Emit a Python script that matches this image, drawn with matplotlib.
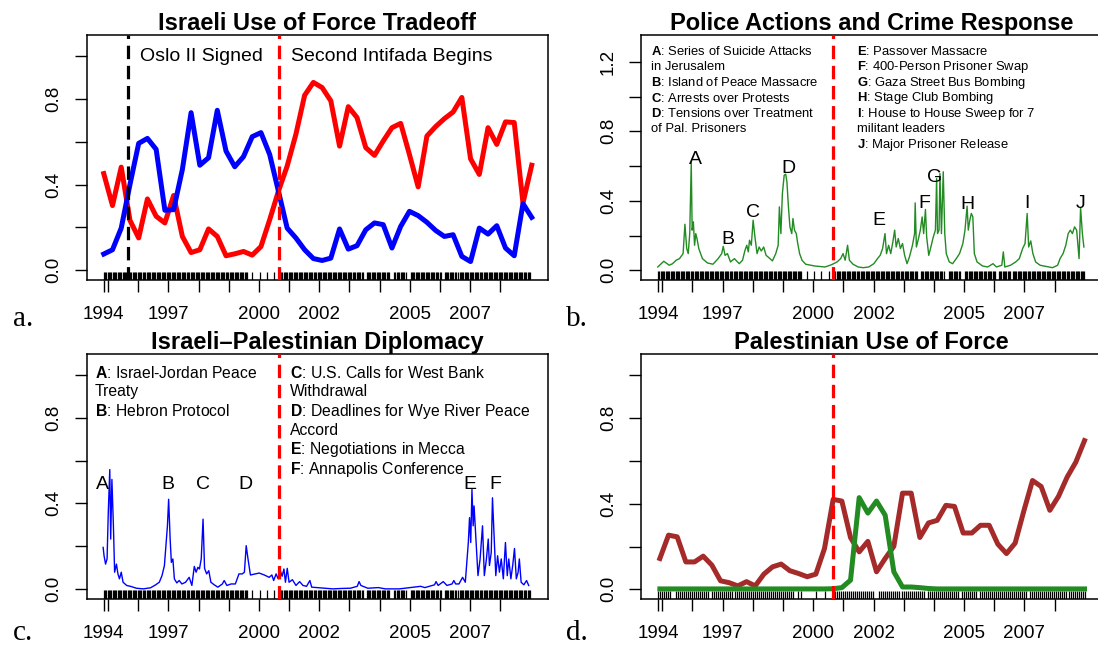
import numpy as np
import matplotlib
matplotlib.use("Agg")
from matplotlib import pyplot as plt

plt.rcParams['font.family'] = ['Liberation Sans', 'DejaVu Sans']
plt.rcParams['mathtext.fontset'] = 'custom'
plt.rcParams['mathtext.rm'] = 'Liberation Sans'
plt.rcParams['mathtext.bf'] = 'Liberation Sans:bold'

# ---------------- data ----------------
# panel a: quarterly-ish periods (50 periods, late 1994 .. early 2009)
periods_a = np.linspace(1994.86, 2009.04, 50)
israel_force_red = [0.451, 0.302, 0.481, 0.233, 0.151, 0.333, 0.252, 0.221, 0.349, 0.158,
                    0.083, 0.096, 0.193, 0.158, 0.068, 0.077, 0.088, 0.071, 0.111, 0.236,
                    0.369, 0.486, 0.634, 0.816, 0.876, 0.852, 0.790, 0.579, 0.763, 0.712,
                    0.572, 0.536, 0.603, 0.665, 0.685, 0.540, 0.389, 0.626, 0.670, 0.707,
                    0.738, 0.806, 0.520, 0.447, 0.665, 0.587, 0.692, 0.689, 0.314, 0.490]
israel_force_blue = [0.076, 0.096, 0.197, 0.400, 0.592, 0.615, 0.564, 0.280, 0.283, 0.470,
                     0.735, 0.490, 0.525, 0.746, 0.556, 0.483, 0.530, 0.623, 0.642, 0.540,
                     0.369, 0.197, 0.151, 0.096, 0.055, 0.046, 0.057, 0.193, 0.099, 0.115,
                     0.189, 0.221, 0.213, 0.104, 0.205, 0.275, 0.255, 0.224, 0.186, 0.158,
                     0.166, 0.065, 0.041, 0.197, 0.169, 0.208, 0.104, 0.068, 0.311, 0.247]

# panel b: police actions (weekly series, key vertices)
police_year = [1994.85, 1995.05, 1995.23, 1995.34, 1995.46, 1995.57, 1995.69, 1995.75, 1995.81, 1995.86,
               1995.91, 1995.96, 1995.99, 1996.03, 1996.07, 1996.11, 1996.15, 1996.21, 1996.33, 1996.50,
               1996.68, 1996.85, 1996.97, 1997.02, 1997.08, 1997.16, 1997.26, 1997.39, 1997.55, 1997.66,
               1997.74, 1997.80, 1997.85, 1997.89, 1997.95, 1998.01, 1998.07, 1998.14, 1998.21, 1998.28,
               1998.36, 1998.44, 1998.53, 1998.65, 1998.76, 1998.84, 1998.88, 1998.93, 1998.98, 1999.04,
               1999.09, 1999.13, 1999.18, 1999.23, 1999.29, 1999.33, 1999.38, 1999.44, 1999.48, 1999.55,
               1999.63, 1999.75, 2000.04, 2000.39, 2000.56, 2000.68, 2000.79, 2000.91, 2000.99, 2001.06,
               2001.14, 2001.20, 2001.32, 2001.49, 2001.66, 2001.84, 2002.01, 2002.13, 2002.22, 2002.30,
               2002.38, 2002.43, 2002.50, 2002.57, 2002.64, 2002.70, 2002.75, 2002.82, 2002.89, 2002.96,
               2003.03, 2003.11, 2003.19, 2003.29, 2003.36, 2003.38, 2003.42, 2003.49, 2003.55, 2003.61,
               2003.66, 2003.72, 2003.76, 2003.83, 2003.90, 2003.98, 2004.05, 2004.09, 2004.12, 2004.17,
               2004.20, 2004.25, 2004.31, 2004.36, 2004.41, 2004.51, 2004.62, 2004.74, 2004.85, 2004.96,
               2005.03, 2005.10, 2005.14, 2005.19, 2005.24, 2005.29, 2005.34, 2005.43, 2005.61, 2005.78,
               2005.96, 2006.07, 2006.25, 2006.30, 2006.35, 2006.54, 2006.71, 2006.83, 2006.94, 2007.02,
               2007.09, 2007.14, 2007.21, 2007.28, 2007.37, 2007.52, 2007.70, 2007.93, 2008.10, 2008.18,
               2008.28, 2008.37, 2008.45, 2008.52, 2008.59, 2008.66, 2008.73, 2008.81, 2008.86, 2008.92,
               2008.97]
police_val = [0.019, 0.052, 0.029, 0.038, 0.058, 0.067, 0.096, 0.265, 0.125, 0.096,
              0.211, 0.619, 0.231, 0.279, 0.144, 0.211, 0.183, 0.125, 0.067, 0.042,
              0.035, 0.067, 0.096, 0.138, 0.086, 0.096, 0.048, 0.067, 0.038, 0.058,
              0.115, 0.144, 0.106, 0.173, 0.144, 0.288, 0.192, 0.096, 0.134, 0.111,
              0.134, 0.086, 0.073, 0.054, 0.096, 0.144, 0.365, 0.211, 0.442, 0.548,
              0.553, 0.509, 0.365, 0.250, 0.211, 0.298, 0.231, 0.211, 0.163, 0.096,
              0.058, 0.035, 0.025, 0.019, 0.029, 0.038, 0.048, 0.067, 0.096, 0.058,
              0.144, 0.058, 0.035, 0.019, 0.015, 0.019, 0.038, 0.067, 0.086, 0.125,
              0.211, 0.096, 0.144, 0.096, 0.163, 0.231, 0.134, 0.183, 0.125, 0.154,
              0.086, 0.038, 0.077, 0.144, 0.211, 0.388, 0.134, 0.183, 0.231, 0.307,
              0.211, 0.350, 0.192, 0.086, 0.134, 0.192, 0.231, 0.528, 0.211, 0.231,
              0.557, 0.211, 0.567, 0.211, 0.096, 0.048, 0.038, 0.067, 0.096, 0.154,
              0.231, 0.369, 0.231, 0.288, 0.327, 0.307, 0.096, 0.048, 0.025, 0.019,
              0.038, 0.019, 0.029, 0.106, 0.019, 0.029, 0.048, 0.067, 0.125, 0.154,
              0.327, 0.134, 0.169, 0.096, 0.048, 0.029, 0.023, 0.015, 0.029, 0.067,
              0.096, 0.144, 0.211, 0.231, 0.211, 0.250, 0.231, 0.067, 0.361, 0.211,
              0.134]

# panel c: diplomacy (weekly series, key vertices)
diplo_year = [1994.84, 1994.87, 1994.92, 1994.97, 1995.01, 1995.06, 1995.09, 1995.13, 1995.18, 1995.22,
              1995.28, 1995.33, 1995.38, 1995.44, 1995.50, 1995.62, 1995.77, 1995.94, 1996.17, 1996.41,
              1996.58, 1996.70, 1996.79, 1996.87, 1996.93, 1996.97, 1997.01, 1997.06, 1997.10, 1997.15,
              1997.20, 1997.28, 1997.36, 1997.45, 1997.57, 1997.69, 1997.78, 1997.86, 1997.92, 1997.98,
              1998.03, 1998.09, 1998.15, 1998.20, 1998.27, 1998.34, 1998.41, 1998.52, 1998.64, 1998.79,
              1998.85, 1998.94, 1999.08, 1999.22, 1999.34, 1999.45, 1999.52, 1999.58, 1999.64, 1999.72,
              1999.89, 2000.01, 2000.18, 2000.34, 2000.43, 2000.49, 2000.57, 2000.64, 2000.71, 2000.77,
              2000.83, 2000.88, 2000.94, 2001.00, 2001.11, 2001.23, 2001.35, 2001.46, 2001.58, 2001.69,
              2001.75, 2001.93, 2002.16, 2002.45, 2002.74, 2003.03, 2003.26, 2003.32, 2003.38, 2003.61,
              2003.96, 2004.19, 2004.66, 2005.01, 2005.36, 2005.50, 2005.82, 2005.87, 2005.94, 2006.11,
              2006.23, 2006.40, 2006.46, 2006.52, 2006.63, 2006.75, 2006.84, 2006.90, 2006.94, 2006.98,
              2007.02, 2007.06, 2007.10, 2007.13, 2007.18, 2007.21, 2007.26, 2007.33, 2007.41, 2007.47,
              2007.54, 2007.60, 2007.64, 2007.70, 2007.74, 2007.80, 2007.85, 2007.91, 2007.97, 2008.03,
              2008.10, 2008.17, 2008.23, 2008.28, 2008.35, 2008.41, 2008.47, 2008.53, 2008.59, 2008.63,
              2008.69, 2008.78, 2008.87, 2008.94]
diplo_val = [0.194, 0.155, 0.116, 0.140, 0.357, 0.558, 0.233, 0.512, 0.295, 0.078,
             0.116, 0.070, 0.047, 0.078, 0.031, 0.016, 0.011, 0.003, 0.000, 0.005,
             0.019, 0.031, 0.062, 0.109, 0.217, 0.295, 0.419, 0.233, 0.124, 0.140,
             0.047, 0.028, 0.039, 0.023, 0.031, 0.054, 0.016, 0.105, 0.078, 0.101,
             0.093, 0.140, 0.326, 0.096, 0.070, 0.085, 0.031, 0.019, 0.008, 0.023,
             0.039, 0.016, 0.023, 0.023, 0.070, 0.070, 0.078, 0.202, 0.140, 0.065,
             0.070, 0.074, 0.065, 0.054, 0.065, 0.039, 0.070, 0.047, 0.085, 0.059,
             0.093, 0.031, 0.096, 0.031, 0.043, 0.016, 0.034, 0.016, 0.012, 0.039,
             0.008, 0.006, 0.003, 0.000, 0.002, 0.003, 0.012, 0.034, 0.016, 0.003,
             0.006, 0.000, 0.000, 0.006, 0.012, 0.006, 0.019, 0.034, 0.016, 0.034,
             0.016, 0.023, 0.039, 0.023, 0.023, 0.054, 0.031, 0.140, 0.217, 0.333,
             0.217, 0.465, 0.295, 0.388, 0.264, 0.194, 0.062, 0.140, 0.295, 0.062,
             0.140, 0.233, 0.109, 0.171, 0.426, 0.233, 0.062, 0.155, 0.078, 0.140,
             0.047, 0.217, 0.062, 0.140, 0.047, 0.109, 0.189, 0.047, 0.078, 0.140,
             0.031, 0.019, 0.039, 0.016]

# panel d: Palestinian use of force (50 periods)
periods_d = np.linspace(1994.92, 2008.99, 50)
pal_force_brown = [0.144, 0.253, 0.245, 0.128, 0.128, 0.155, 0.113, 0.040, 0.031, 0.016,
                   0.036, 0.016, 0.071, 0.105, 0.118, 0.087, 0.074, 0.059, 0.071, 0.191,
                   0.420, 0.412, 0.242, 0.175, 0.224, 0.082, 0.144, 0.201, 0.449, 0.449,
                   0.242, 0.310, 0.322, 0.392, 0.387, 0.263, 0.263, 0.299, 0.299, 0.211,
                   0.167, 0.216, 0.366, 0.508, 0.480, 0.369, 0.434, 0.524, 0.594, 0.694]
pal_force_green = [0.002] * 20 + [0.003, 0.008, 0.043, 0.428, 0.356, 0.412, 0.346, 0.082, 0.011, 0.011,
                                  0.008, 0.004] + [0.002] * 18

# event-date rugs: observation dates, with a sparse stretch before the intifada
rug_start, rug_end = 1994.86, 2009.02
rug_step_abc = 1 / 24.0
rug_sparse_abc = (1999.62, 2000.66)
rug_sparse_ticks_abc = [1999.78, 2000.04, 2000.26, 2000.51]
rug_gaps_abc = [(2003.46, 2003.55), (2004.35, 2004.46), (2004.90, 2004.99), (2006.06, 2006.12),
                (2006.56, 2006.61)]
rug_step_d = 1 / 15.0
rug_sparse_d = (1999.28, 2000.66)
rug_sparse_ticks_d = [1999.33, 1999.50, 1999.60, 2000.10, 2000.38]
rug_gaps_d = [(1995.30, 1995.40), (1996.55, 1996.62), (2002.05, 2002.13), (2003.70, 2003.78),
              (2004.80, 2004.88), (2005.40, 2005.46), (2007.10, 2007.17)]

oslo_date = 1995.65
intifada_date = 2000.66

# axis ticks
xtick_pos = [1994.86] + list(range(1995, 2009))
xtick_lbl = ['1994' if p == 1994.86 else (str(p) if p in (1997, 2000, 2002, 2005, 2007) else '')
             for p in xtick_pos]

police_letters = ['A', 'B', 'C', 'D', 'E', 'F', 'G', 'H', 'I', 'J']
police_letter_x = [1996.10, 1997.16, 1998.01, 1999.17, 2002.19, 2003.67, 2004.01, 2005.10, 2007.09, 2008.86]
police_letter_y = [0.611, 0.154, 0.304, 0.561, 0.259, 0.361, 0.509, 0.355, 0.361, 0.361]
police_notes_left = [('A', 'Series of Suicide Attacks'), ('', 'in Jerusalem'), ('B', 'Island of Peace Massacre'),
                     ('C', 'Arrests over Protests'), ('D', 'Tensions over Treatment'), ('', 'of Pal. Prisoners')]
police_notes_right = [('E', 'Passover Massacre'), ('F', '400-Person Prisoner Swap'),
                      ('G', 'Gaza Street Bus Bombing'), ('H', 'Stage Club Bombing'),
                      ('I', 'House to House Sweep for 7'), ('', 'militant leaders'),
                      ('J', 'Major Prisoner Release')]

diplo_letters = ['A', 'B', 'C', 'D', 'E', 'F']
diplo_letter_x = [1994.82, 1996.99, 1998.15, 1999.57, 2006.98, 2007.83]
diplo_letter_y = [0.468] * 6
diplo_notes_left = [('A', 'Israel-Jordan Peace'), ('', 'Treaty'), ('B', 'Hebron Protocol')]
diplo_notes_right = [('C', 'U.S. Calls for West Bank'), ('', 'Withdrawal'),
                     ('D', 'Deadlines for Wye River Peace'), ('', 'Accord'),
                     ('E', 'Negotiations in Mecca'), ('F', 'Annapolis Conference')]


def rug_positions(step, sparse, sparse_ticks, gaps):
    dates = np.arange(rug_start, rug_end, step)
    keep = ~((dates > sparse[0]) & (dates < sparse[1]))
    for g0, g1 in gaps:
        keep &= ~((dates > g0) & (dates < g1))
    return np.sort(np.concatenate([dates[keep], sparse_ticks]))


def style_axes(ax, ylim, yticks, ylabels, rug):
    ax.set_xlim(1994.295, 2009.57)
    ax.set_ylim(*ylim)
    ax.set_xticks(xtick_pos)
    ax.set_xticklabels(xtick_lbl)
    ax.set_yticks(yticks)
    ax.set_yticklabels(ylabels, rotation=90, va='center')
    ax.tick_params(direction='out', length=8.4, width=1.0, labelsize=13.5, color='k')
    ax.tick_params(axis='x', pad=10.5)
    ax.tick_params(axis='y', pad=9)
    for s in ax.spines.values():
        s.set_linewidth(1.1)
    # rug of observation dates
    ax.vlines(rug, 0, 0.034, transform=ax.get_xaxis_transform(), color='k', lw=0.9, zorder=2)


def add_notes(ax, notes, x, y0, step, size):
    for i, (key, txt) in enumerate(notes):
        s = (r'$\mathbf{%s}$: ' % key + txt) if key else txt
        ax.text(x, y0 - i * step, s, transform=ax.transAxes, fontsize=size, va='center', ha='left')


W, H = 1098, 646
fig = plt.figure(figsize=(W / 100, H / 100), dpi=100)


def box(l, r, t, b):
    return [l / W, (H - b) / H, (r - l) / W, (b - t) / H]


ax_a = fig.add_axes(box(86.7, 547.7, 35, 280))
ax_b = fig.add_axes(box(641, 1102, 35, 279.5))
ax_c = fig.add_axes(box(86.7, 547.7, 354.3, 598.5))
ax_d = fig.add_axes(box(641, 1102, 354.3, 599))

rug_abc = rug_positions(rug_step_abc, rug_sparse_abc, rug_sparse_ticks_abc, rug_gaps_abc)
rug_d = rug_positions(rug_step_d, rug_sparse_d, rug_sparse_ticks_d, rug_gaps_d)

yt = [0, 0.2, 0.4, 0.6, 0.8, 1.0]
yl = ['0.0', '', '0.4', '', '0.8', '']
ylim_std = (-0.045, 1.097)
dash_kw = dict(lw=2.3, dashes=(4.2, 2.1), zorder=5)
title_kw = dict(fontsize=17, fontweight='bold', pad=1.5)

# ---- a ----
style_axes(ax_a, ylim_std, yt, yl, rug_abc)
ax_a.plot(periods_a, israel_force_red, color='red', lw=3.6, solid_joinstyle='round', zorder=3)
ax_a.plot(periods_a, israel_force_blue, color='blue', lw=3.6, solid_joinstyle='round', zorder=3)
ax_a.axvline(oslo_date, color='k', **dash_kw)
ax_a.axvline(intifada_date, color='red', **dash_kw)
ax_a.text(1996.05, 0.975, 'Oslo II Signed', fontsize=14, ha='left', va='baseline')
ax_a.text(2001.07, 0.975, 'Second Intifada Begins', fontsize=14, ha='left', va='baseline')
ax_a.set_title('Israeli Use of Force Tradeoff', **title_kw)

# ---- b ----
style_axes(ax_b, (-0.053, 1.354), [0, 0.2, 0.4, 0.6, 0.8, 1.0, 1.2],
           ['0.0', '', '0.4', '', '0.8', '', '1.2'], rug_abc)
ax_b.plot(police_year, police_val, color='forestgreen', lw=1.0, zorder=3)
ax_b.axvline(intifada_date, color='red', **dash_kw)
for lt, lx, ly in zip(police_letters, police_letter_x, police_letter_y):
    ax_b.text(lx, ly, lt, fontsize=14, ha='center', va='baseline')
add_notes(ax_b, police_notes_left, 0.021, 0.932, 0.0636, 9.4)
add_notes(ax_b, police_notes_right, 0.469, 0.932, 0.0636, 9.4)
ax_b.set_title('Police Actions and Crime Response', **title_kw)

# ---- c ----
style_axes(ax_c, ylim_std, yt, yl, rug_abc)
ax_c.plot(diplo_year, diplo_val, color='blue', lw=1.0, zorder=3)
ax_c.axvline(intifada_date, color='red', **dash_kw)
for lt, lx, ly in zip(diplo_letters, diplo_letter_x, diplo_letter_y):
    ax_c.text(lx, ly, lt, fontsize=14, ha='center', va='baseline')
add_notes(ax_c, diplo_notes_left, 0.0174, 0.925, 0.079, 11.3)
add_notes(ax_c, diplo_notes_right, 0.4415, 0.925, 0.079, 11.3)
ax_c.set_title('Israeli\u2013Palestinian Diplomacy', **title_kw)

# ---- d ----
style_axes(ax_d, ylim_std, yt, yl, rug_d)
ax_d.plot(periods_d, pal_force_brown, color='brown', lw=3.6, solid_joinstyle='round', zorder=3)
ax_d.plot(periods_d, pal_force_green, color='forestgreen', lw=3.6, solid_joinstyle='round', zorder=3)
ax_d.axvline(intifada_date, color='red', **dash_kw)
ax_d.set_title('Palestinian Use of Force', **title_kw)

# panel letters
for lab, x, y in [('a.', 13, 326), ('b.', 566, 326), ('c.', 13, 640), ('d.', 566, 640)]:
    fig.text(x / W, 1 - y / H, lab, fontsize=21, family='Liberation Serif', va='baseline', ha='left')

fig.savefig('out.png', dpi=100)
plt.close(fig)
